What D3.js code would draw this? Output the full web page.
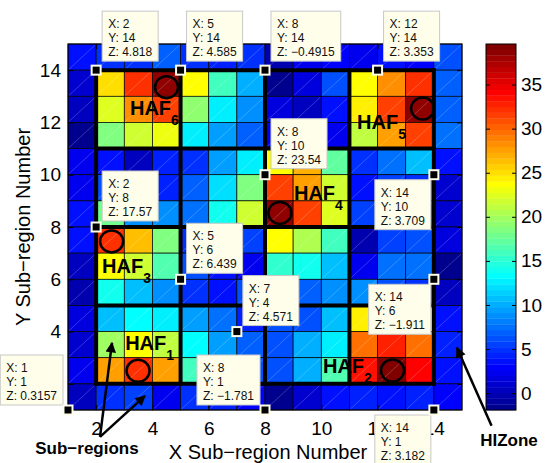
<!DOCTYPE html>
<html><head><meta charset="utf-8">
<script src="https://cdn.jsdelivr.net/npm/d3@7"></script>
<style>
body{margin:0;background:#fff;}
text{font-family:"Liberation Sans",Arial,Helvetica,sans-serif;}
</style>
</head><body>
<svg id="c" width="547" height="463"></svg>
<script>
// ---------------- data ----------------
const xTicks = [2,4,6,8,10,12,14];
const yTicks = [2,4,6,8,10,12,14];
const cbTicks = [0,5,10,15,20,25,30,35];
const xCells = [1,2,3,4,5,6,7,8,9,10,11,12,13,14];
const yCellsTopDown = [14,13,12,11,10,9,8,7,6,5,4,3,2,1];
// values at grid node (x, y); rows from y=14 (top) down to y=1
const zValues = [
 [3.6, 4.818, 5.0, 7.0, 4.585, 4.0, 5.0, -0.4915, 2.0, 3.0, 2.5, 3.353, 3.0, 6.5],
 [0.8, 25.0, 32.0, 38.6, 24.0, 16.0, 10.2, -1.3, 1.5, 6.0, 24.0, 28.0, 32.0, 6.6],
 [0.1, 22.5, 28.0, 31.5, 19.0, 13.0, 8.6, 1.5, 0.1, 3.6, 24.3, 31.5, 38.6, 6.6],
 [-1.3, 18.2, 21.7, 23.0, 13.0, 9.3, 6.6, 2.0, 2.0, 2.5, 21.0, 27.5, 31.5, 7.3],
 [2.5, 3.6, 0.5, 4.5, 5.0, 9.3, 12.5, 23.54, 27.0, 17.5, 4.7, 7.3, 10.5, 3.709],
 [2.2, 6.0, 8.0, 4.0, 6.6, 12.0, 18.5, 31.5, 27.8, 22.0, 3.8, 5.5, 5.0, 0.8],
 [3.3, 17.57, 9.0, 8.6, 7.3, 13.8, 21.7, 38.6, 31.5, 22.7, 5.3, 4.0, 3.0, 0.8],
 [3.6, 32.0, 26.5, 18.2, 5.0, 4.0, 5.3, 23.5, 20.5, 16.0, 0.0, 5.3, 6.0, 1.5],
 [0.1, 24.0, 21.7, 16.4, 6.439, 3.5, 2.5, 15.0, 13.8, 10.5, 2.5, 7.3, 7.8, -1.911],
 [-0.5, 13.8, 10.5, 8.6, 4.7, 3.6, 6.0, 5.0, 7.0, 9.0, 8.5, 6.0, 5.0, 0.5],
 [1.5, 11.0, 13.2, 12.6, 9.3, 7.3, 4.571, 6.0, 6.0, 10.5, 24.3, 26.0, 25.0, 3.6],
 [0.8, 19.7, 24.0, 21.0, 13.2, 9.3, 7.0, 6.0, 9.8, 12.6, 29.8, 33.0, 29.8, 4.0],
 [2.2, 27.5, 32.0, 27.5, 16.0, 8.0, 6.0, 6.0, 10.2, 16.5, 33.5, 39.5, 34.0, 3.5],
 [0.3157, 4.7, 5.3, 2.2, 4.7, 4.0, 3.0, -1.781, 1.2, 3.5, 4.0, 3.8, 4.0, 3.182]
];
const colorLimits = [-1.911, 39.6];
const regionEdges = [2,5,8,11,14];
const hafNames = ["HAF","HAF","HAF","HAF","HAF","HAF"];
const hafSubs = ["6","5","4","3","1","2"];
const hafLabelX = [3.203, 11.27, 9.03, 2.21, 3.03, 10.06];
const hafLabelY = [12.285, 11.75, 9.035, 6.244, 3.30, 2.42];
const circleX = [4.5, 13.6, 8.53, 2.55, 3.49, 12.53];
const circleY = [13.35, 12.53, 8.54, 7.45, 2.5, 2.51];
const tipX = [2,5,8,12,8,14,2,5,7,14,1,8,14];
const tipY = [14,14,14,14,10,10,8,6,4,6,1,1,1];
const tipDir = ["ur","ur","ur","ur","ur","dl","ur","ur","ur","dl","ul","ul","dl"];
const arrowLabels = ["Sub−regions","HIZone"];
const arrowFrom = [[2.137,-0.027],[2.137,-0.027],[16.05,0.4]];
const arrowTo = [[2.563,3.568],[3.736,1.541],[14.82,3.38]];

// ---------------- layout ----------------
const svg = d3.select("#c");
const FONT = '"Liberation Sans",Arial,Helvetica,sans-serif';
const x = d3.scaleLinear().domain([1,15]).range([68,462]);
const y = d3.scaleLinear().domain([1,15]).range([410,44]);

// MATLAB jet colormap (64)
function jet(m){
  const n = Math.ceil(m/4), u = [];
  for(let i=1;i<=n;i++) u.push(i/n);
  for(let i=0;i<n-1;i++) u.push(1);
  for(let i=n;i>=1;i--) u.push(i/n);
  const g0 = Math.ceil(n/2) - (m%4===1?1:0);
  const c = Array.from({length:m},()=>[0,0,0]);
  u.forEach((v,k)=>{
    const gi=g0+k+1, ri=gi+n, bi=gi-n;
    if(ri>=1&&ri<=m) c[ri-1][0]=v;
    if(gi>=1&&gi<=m) c[gi-1][1]=v;
    if(bi>=1&&bi<=m) c[bi-1][2]=v;
  });
  return c.map(a=>d3.rgb(a[0]*255,a[1]*255,a[2]*255).formatHex());
}
const jetColors = jet(64);
const color = d3.scaleQuantize().domain(colorLimits).range(jetColors);

// cells
const cells = [];
yCellsTopDown.forEach((yy,r)=>xCells.forEach((xx,c)=>cells.push({x:xx,y:yy,z:zValues[r][c]})));
const gCells = svg.append("g");
gCells.selectAll("rect").data(cells).join("rect")
  .attr("x",d=>x(d.x)).attr("y",d=>y(d.y+1))
  .attr("width",d=>x(d.x+1)-x(d.x)).attr("height",d=>y(d.y)-y(d.y+1))
  .attr("fill",d=>color(d.z)).attr("stroke","#000").attr("stroke-width",0.7);
gCells.selectAll("line").data(cells).join("line")
  .attr("x1",d=>x(d.x)+1).attr("y1",d=>y(d.y)-1)
  .attr("x2",d=>x(d.x+1)-1).attr("y2",d=>y(d.y+1)+1)
  .attr("stroke","#fff").attr("stroke-opacity",0.35).attr("stroke-width",0.6);

// axes box & ticks
svg.append("rect").attr("x",x(1)).attr("y",y(15)).attr("width",x(15)-x(1)).attr("height",y(1)-y(15))
  .attr("fill","none").attr("stroke","#000").attr("stroke-width",1);
const ax = svg.append("g").attr("transform",`translate(0,${y(1)})`)
  .call(d3.axisBottom(x).tickValues(xTicks).tickSizeInner(-5).tickSizeOuter(0).tickPadding(12));
const ay = svg.append("g").attr("transform",`translate(${x(1)},0)`)
  .call(d3.axisLeft(y).tickValues(yTicks).tickSizeInner(-5).tickSizeOuter(0).tickPadding(7));
svg.append("g").attr("transform",`translate(0,${y(15)})`)
  .call(d3.axisTop(x).tickValues(xTicks).tickSizeInner(-5).tickSizeOuter(0).tickFormat(""));
svg.append("g").attr("transform",`translate(${x(15)},0)`)
  .call(d3.axisRight(y).tickValues(yTicks).tickSizeInner(-5).tickSizeOuter(0).tickFormat(""));
svg.selectAll(".domain").remove();
[ax,ay].forEach(a=>a.selectAll("text").attr("font-size",19).attr("font-family",FONT).attr("fill","#000"));

// thick sub-region lines
const gThick = svg.append("g");
regionEdges.forEach(e=>{
  gThick.append("line").attr("x1",x(e)).attr("x2",x(e)).attr("y1",y(regionEdges[0])+2).attr("y2",y(regionEdges[4])-2);
  gThick.append("line").attr("y1",y(e)).attr("y2",y(e)).attr("x1",x(regionEdges[0])-2).attr("x2",x(regionEdges[4])+2);
});
gThick.selectAll("line").attr("stroke","#000").attr("stroke-width",4);

// circles
svg.append("g").selectAll("ellipse").data(circleX).join("ellipse")
  .attr("cx",(d,i)=>x(d)).attr("cy",(d,i)=>y(circleY[i])).attr("rx",11.5).attr("ry",11)
  .attr("fill","none").attr("stroke","#000").attr("stroke-width",2.5);

// HAF labels
const gH = svg.append("g");
hafNames.forEach((n,i)=>{
  const t = gH.append("text").attr("x",x(hafLabelX[i])).attr("y",y(hafLabelY[i]))
    .attr("font-size",20).attr("font-weight","bold").attr("fill","#000");
  t.append("tspan").text(n);
  t.append("tspan").attr("font-size",14).attr("dy",10).text(hafSubs[i]);
});

// arrows
const defs = svg.append("defs");
defs.append("marker").attr("id","ah").attr("viewBox","0 0 10 10").attr("refX",9).attr("refY",5)
  .attr("markerWidth",5).attr("markerHeight",4.2).attr("orient","auto").attr("markerUnits","strokeWidth")
  .append("path").attr("d","M0,0 L10,5 L0,10 z").attr("fill","#000");
svg.append("g").selectAll("line").data(arrowFrom).join("line")
  .attr("x1",d=>x(d[0])).attr("y1",d=>y(d[1]))
  .attr("x2",(d,i)=>x(arrowTo[i][0])).attr("y2",(d,i)=>y(arrowTo[i][1]))
  .attr("stroke","#000").attr("stroke-width",2.5).attr("marker-end","url(#ah)");

// data tips
const gTip = svg.append("g");
const fmt = d3.format(".4");
tipX.forEach((tx,i)=>{
  const ty = tipY[i];
  const z = zValues[yCellsTopDown.indexOf(ty)][xCells.indexOf(tx)];
  const lines = [`X: ${tx}`,`Y: ${ty}`,`Z: ${fmt(z)}`];
  const g = gTip.append("g");
  const rect = g.append("rect");
  const texts = lines.map(l=>g.append("text").attr("font-size",12).attr("fill","#111").text(l));
  const w = d3.max(texts,t=>t.node().getComputedTextLength()) + 12;
  const h = 50;
  const mx = x(tx), my = y(ty);
  let left, top;
  if(tipDir[i]==="ur"){ left = mx+6; top = my-(ty===14?9:6)-h; }
  else if(tipDir[i]==="dl"){ left = mx-3-w; top = my+5; }
  else { left = mx-5-w; top = my-5-h; }
  rect.attr("x",left).attr("y",top).attr("width",w).attr("height",h)
    .attr("fill","#fefeea").attr("stroke","#c8c8c8").attr("stroke-width",1);
  texts.forEach((t,k)=>t.attr("x",left+6).attr("y",top+17+k*14));
  gTip.append("rect").attr("x",mx-4.5).attr("y",my-4.5).attr("width",9).attr("height",9)
    .attr("fill","#000").attr("stroke","#fefeea").attr("stroke-width",2);
});

// arrow labels
svg.append("text").attr("x",x(arrowFrom[0][0])-13).attr("y",454).attr("text-anchor","middle")
  .attr("font-size",17).attr("font-weight","bold").text(arrowLabels[0]);
svg.append("text").attr("x",509).attr("y",446).attr("text-anchor","middle")
  .attr("font-size",17).attr("font-weight","bold").text(arrowLabels[1]);

// axis titles
svg.append("text").attr("x",(x(1)+x(15))/2+3).attr("y",459).attr("text-anchor","middle")
  .attr("font-size",20).text("X Sub−region Number");
svg.append("text").attr("transform",`translate(30,${(y(1)+y(15))/2}) rotate(-90)`).attr("text-anchor","middle")
  .attr("font-size",20).text("Y Sub−region Number");

// colorbar
const cbX0 = 486, cbX1 = 516;
const cbY = d3.scaleLinear().domain(colorLimits).range([y(1),y(15)]);
const step = (colorLimits[1]-colorLimits[0])/jetColors.length;
svg.append("g").selectAll("rect").data(jetColors).join("rect")
  .attr("x",cbX0).attr("width",cbX1-cbX0)
  .attr("y",(d,i)=>cbY(colorLimits[0]+(i+1)*step)).attr("height",(d,i)=>cbY(colorLimits[0]+i*step)-cbY(colorLimits[0]+(i+1)*step)+0.3)
  .attr("fill",d=>d);
svg.append("rect").attr("x",cbX0).attr("y",cbY(colorLimits[1])).attr("width",cbX1-cbX0)
  .attr("height",cbY(colorLimits[0])-cbY(colorLimits[1])).attr("fill","none").attr("stroke","#000").attr("stroke-width",1);
const cbA = svg.append("g").attr("transform",`translate(${cbX1},0)`)
  .call(d3.axisRight(cbY).tickValues(cbTicks).tickSizeInner(-4).tickSizeOuter(0).tickPadding(5));
svg.append("g").attr("transform",`translate(${cbX0},0)`)
  .call(d3.axisLeft(cbY).tickValues(cbTicks).tickSizeInner(-4).tickSizeOuter(0).tickFormat(""));
svg.selectAll(".domain").remove();
cbA.selectAll("text").attr("font-size",19).attr("font-family",FONT).attr("fill","#000");
</script>
</body></html>
